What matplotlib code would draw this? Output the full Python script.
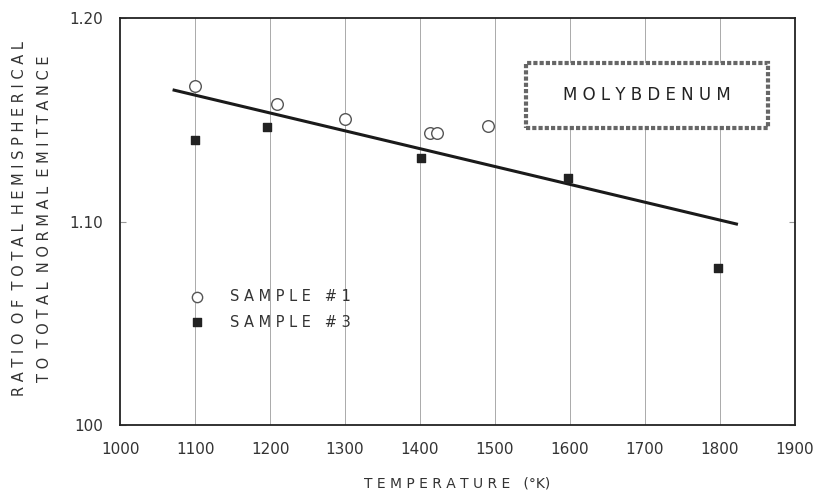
import matplotlib
matplotlib.use('Agg')
import matplotlib.pyplot as plt
from matplotlib.patches import Rectangle

# sample #1 (open circles)
temp1 = [1100, 1209, 1300, 1413, 1422, 1490]
ratio1 = [1.1666, 1.1577, 1.1504, 1.1435, 1.1435, 1.1469]
# sample #3 (filled squares)
temp3 = [1100, 1196, 1401, 1598, 1797]
ratio3 = [1.1400, 1.1464, 1.1312, 1.1214, 1.0771]
# fitted line end points
fit_t = [1072, 1822]
fit_r = [1.1646, 1.0988]

xticks = [1000, 1100, 1200, 1300, 1400, 1500, 1600, 1700, 1800, 1900]
yticks = [1.00, 1.10, 1.20]
ylabels = ['100', '1.10', '1.20']

plt.rcParams['font.family'] = 'DejaVu Sans'
fig = plt.figure(figsize=(8.17, 5.03), dpi=100)
ax = fig.add_axes([0.147, 0.155, 0.826, 0.809])

for t in xticks[1:-1]:
    ax.axvline(t, color='#aaaaaa', lw=0.7, zorder=0)

ax.plot(fit_t, fit_r, color='#1a1a1a', lw=2.2, zorder=2)
ax.scatter(temp1, ratio1, s=70, facecolors='white', edgecolors='#555555', linewidths=1.0, zorder=3)
ax.scatter(temp3, ratio3, s=30, marker='s', color='#222222', zorder=3)

ax.set_xlim(1000, 1900)
ax.set_ylim(1.00, 1.20)
ax.set_xticks(xticks)
ax.set_xticklabels([str(t) for t in xticks], fontsize=11, color='#333333')
ax.set_yticks(yticks)
ax.set_yticklabels(ylabels, fontsize=11, color='#333333')
ax.tick_params(axis='x', length=0, pad=12)
ax.tick_params(axis='y', length=4, direction='in', right=True, pad=12, color='#999999')
for s in ax.spines.values():
    s.set_linewidth(1.3)
    s.set_color('#222222')

ax.set_xlabel('T E M P E R A T U R E   (°K)', fontsize=10, labelpad=14, color='#333333')
fig.text(0.024, 0.565, 'R A T I O  O F  T O T A L  H E M I S P H E R I C A L',
         rotation=90, ha='center', va='center', fontsize=10.5, color='#333333')
fig.text(0.055, 0.565, 'T O  T O T A L  N O R M A L  E M I T T A N C E',
         rotation=90, ha='center', va='center', fontsize=10.5, color='#333333')

# legend
ax.scatter([1103], [1.0630], s=55, facecolors='white', edgecolors='#555555', linewidths=1.0, zorder=3)
ax.scatter([1103], [1.0506], s=26, marker='s', color='#222222', zorder=3)
ax.text(1147, 1.0630, 'S A M P L E   # 1', fontsize=10.5, va='center', color='#333333')
ax.text(1147, 1.0506, 'S A M P L E   # 3', fontsize=10.5, va='center', color='#333333')

ax.add_patch(Rectangle((1541, 1.1460), 323, 0.032, facecolor='white', edgecolor='#666666',
                       linestyle=(0, (1, 0.5)), linewidth=3, zorder=4))
ax.text(1702, 1.1620, 'M O L Y B D E N U M', fontsize=12, ha='center', va='center',
        color='#222222', zorder=5)

fig.savefig('out.png', dpi=100)
